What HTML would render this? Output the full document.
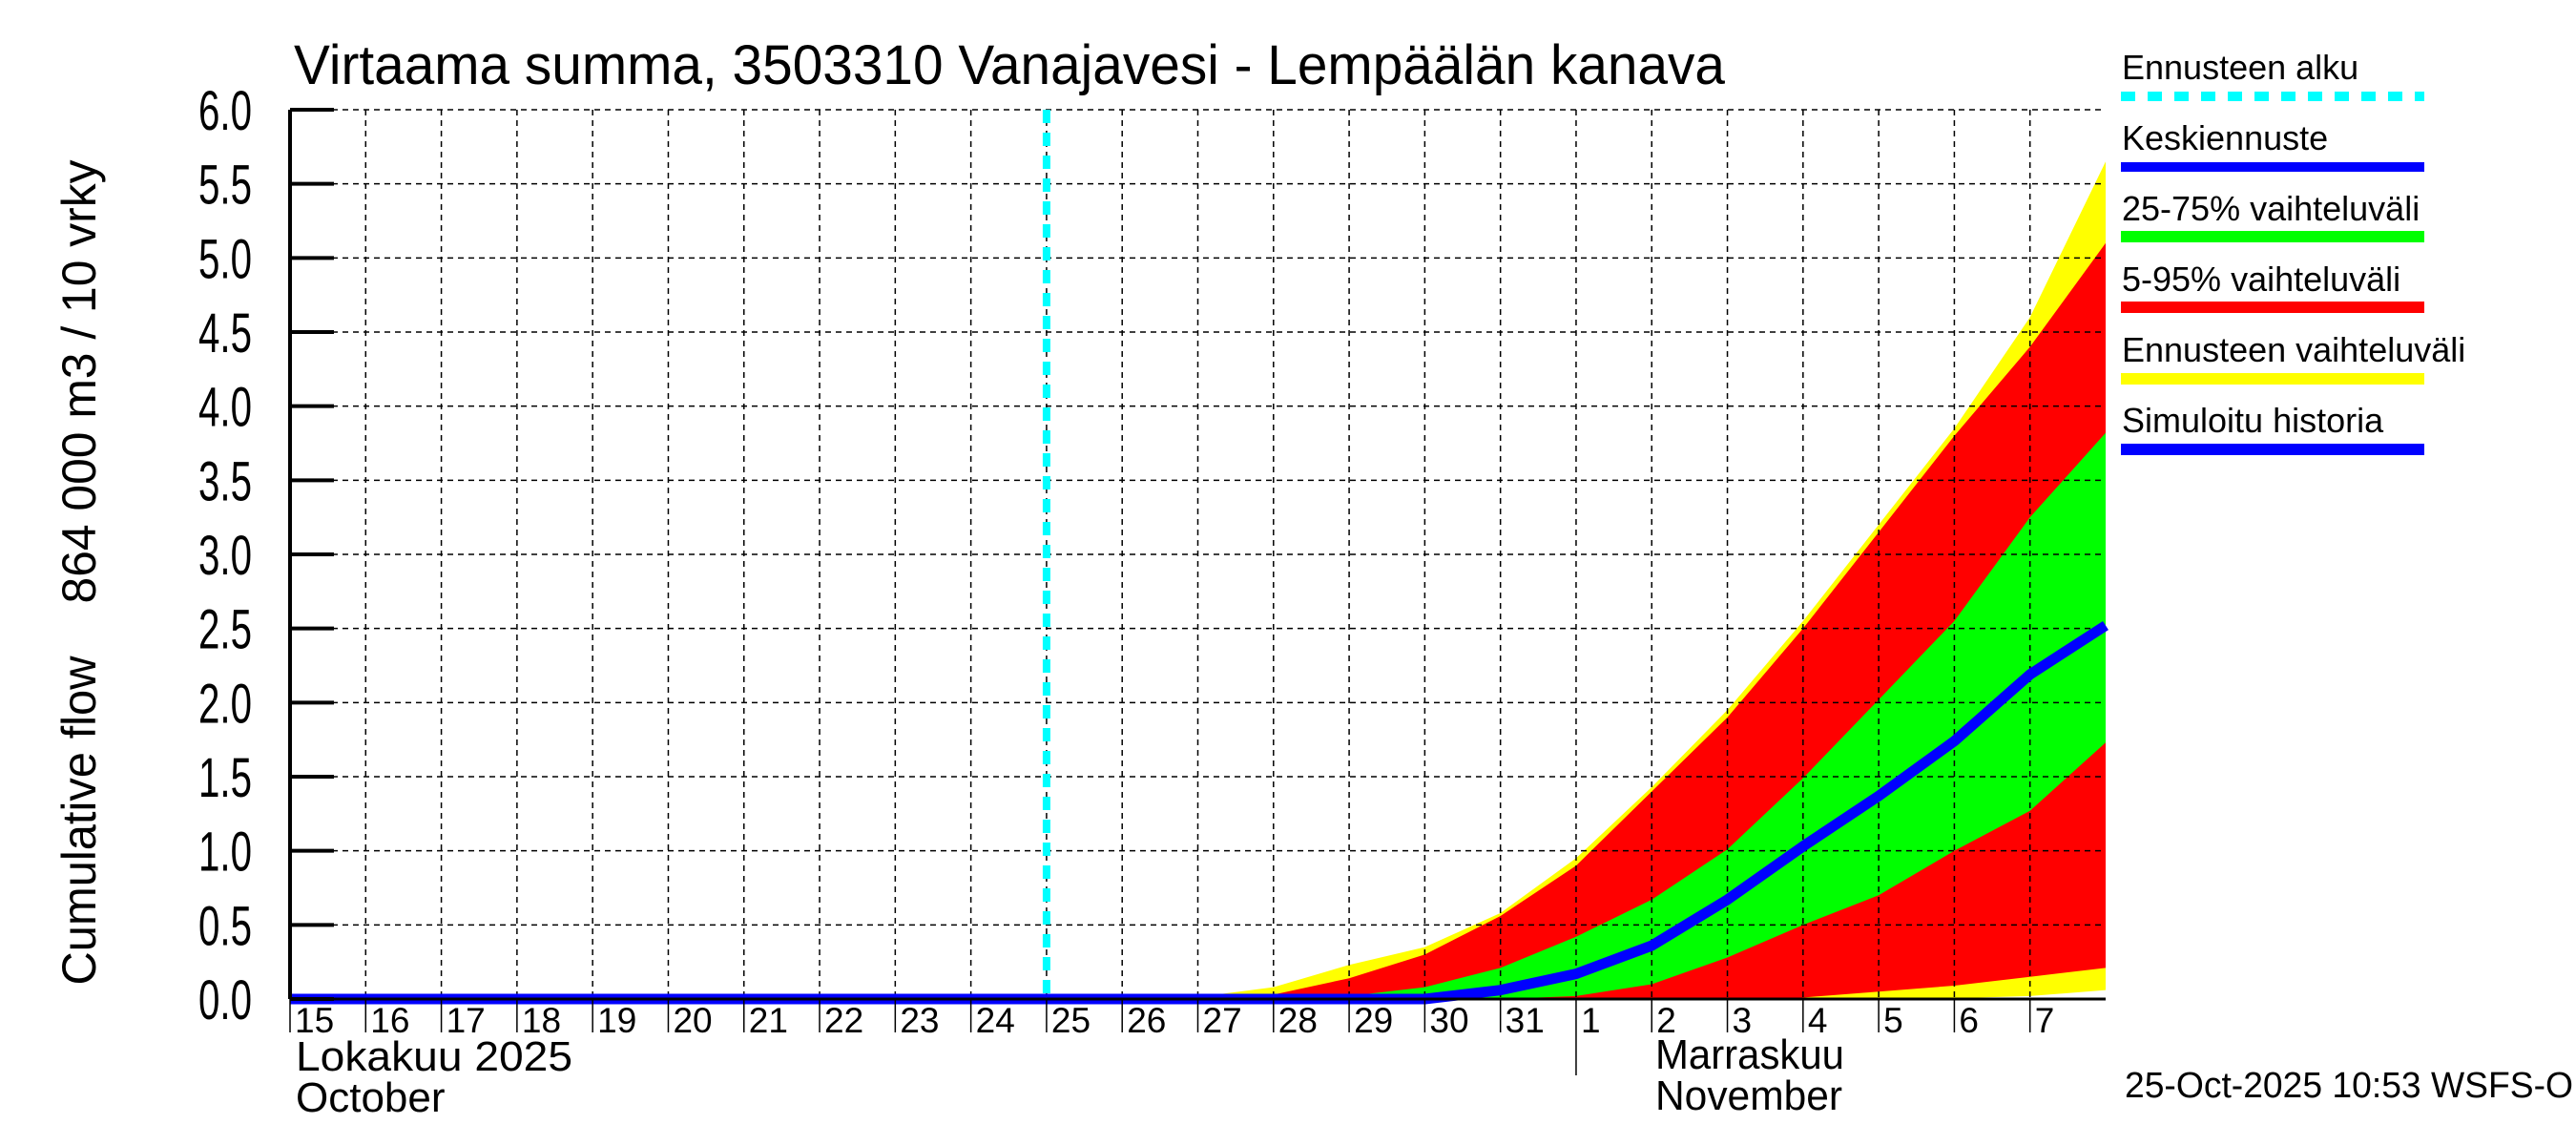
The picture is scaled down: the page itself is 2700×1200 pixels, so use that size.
<!DOCTYPE html>
<html><head><meta charset="utf-8"><style>
html,body{margin:0;padding:0;background:#fff;}
svg{display:block;font-family:"Liberation Sans",sans-serif;}
</style></head><body>
<svg id="chart" width="2700" height="1200" viewBox="0 0 2700 1200" xmlns="http://www.w3.org/2000/svg">
<text x="308" y="88" font-size="58" textLength="1500" lengthAdjust="spacingAndGlyphs">Virtaama summa, 3503310 Vanajavesi - Lempäälän kanava</text>
<text transform="translate(100,860) rotate(-90)" text-anchor="middle" font-size="50" textLength="345" lengthAdjust="spacingAndGlyphs">Cumulative flow</text>
<text transform="translate(100,400) rotate(-90)" text-anchor="middle" font-size="50" textLength="465" lengthAdjust="spacingAndGlyphs">864 000 m3 / 10 vrky</text>
<g id="bands"></g>
<g id="grid"></g>
<g id="lines"></g>
<g id="axes"></g>
<g>
 <text x="2224" y="83" font-size="36">Ennusteen alku</text>
 <line x1="2223" y1="101" x2="2541" y2="101" stroke="#00ffff" stroke-width="10" stroke-dasharray="15,13"/>
 <text x="2224" y="157" font-size="36">Keskiennuste</text>
 <line x1="2223" y1="175" x2="2541" y2="175" stroke="#0000ff" stroke-width="10"/>
 <text x="2224" y="231" font-size="36">25-75% vaihteluväli</text>
 <line x1="2223" y1="248" x2="2541" y2="248" stroke="#00ff00" stroke-width="12"/>
 <text x="2224" y="305" font-size="36">5-95% vaihteluväli</text>
 <line x1="2223" y1="322" x2="2541" y2="322" stroke="#ff0000" stroke-width="12"/>
 <text x="2224" y="379" font-size="36">Ennusteen vaihteluväli</text>
 <line x1="2223" y1="397" x2="2541" y2="397" stroke="#ffff00" stroke-width="12"/>
 <text x="2224" y="453" font-size="36">Simuloitu historia</text>
 <line x1="2223" y1="471" x2="2541" y2="471" stroke="#0000ff" stroke-width="12"/>
</g>
<text x="310" y="1122" font-size="44" textLength="290" lengthAdjust="spacingAndGlyphs">Lokakuu  2025</text>
<text x="310" y="1165" font-size="44">October</text>
<text x="1735" y="1120" font-size="44" textLength="198" lengthAdjust="spacingAndGlyphs">Marraskuu</text>
<text x="1735" y="1163" font-size="44" textLength="196" lengthAdjust="spacingAndGlyphs">November</text>
<text x="2697" y="1150" font-size="38" text-anchor="end" textLength="470" lengthAdjust="spacingAndGlyphs">25-Oct-2025 10:53 WSFS-O</text>
</svg>
<script>
// day index 0 = 15 Oct, 24 = 8 Nov
const dayLabels = ["15","16","17","18","19","20","21","22","23","24","25","26","27","28","29","30","31","1","2","3","4","5","6","7"];
const yTicks = [0,0.5,1,1.5,2,2.5,3,3.5,4,4.5,5,5.5,6];
const bandDays = [11.8,13,14,15,16,17,18,19,20,21,22,23,24];
const yellowUpper = [0,0.08,0.23,0.35,0.58,0.95,1.43,1.95,2.55,3.2,3.85,4.6,5.65];
const yellowLower = [0,0,0,0,0,0,0,0,0,0,0.005,0.02,0.06];
const redUpper    = [0,0.03,0.14,0.3,0.56,0.9,1.4,1.9,2.5,3.15,3.8,4.4,5.1];
const redLower    = [0,0,0,0,0,0,0,0,0.01,0.05,0.09,0.15,0.21];
const greenUpper  = [0,0,0.02,0.08,0.21,0.42,0.67,1.01,1.49,2.02,2.55,3.25,3.82];
const greenLower  = [0,0,0,0,0,0.02,0.1,0.28,0.5,0.7,1.0,1.27,1.73];
const medianDays  = [10,15,16,17,18,19,20,21,22,23,24];
const median      = [0,0,0.06,0.17,0.36,0.67,1.03,1.37,1.74,2.19,2.52];
const historyDays = [0,10];
const history     = [0,0];
const forecastStartDay = 10;

const L=304,R=2207,T=115,B=1047,NDAYS=24,YMAX=6;
const xs=d=>L+(R-L)*d/NDAYS;
const ys=v=>B-(B-T)*v/YMAX;
const NS="http://www.w3.org/2000/svg";
function mk(tag,parent,attrs){const e=document.createElementNS(NS,tag);for(const k in attrs)e.setAttribute(k,attrs[k]);document.getElementById(parent).appendChild(e);return e;}
function band(up,lo,color,name){
  let p=bandDays.map((d,i)=>xs(d)+","+ys(up[i]));
  for(let i=bandDays.length-1;i>=0;i--)p.push(xs(bandDays[i])+","+ys(lo[i]));
  const e=mk("polygon","bands",{points:p.join(" "),fill:color});
  
  
}
band(yellowUpper,yellowLower,"#ffff00","band-forecast-range");
band(redUpper,redLower,"#ff0000","band-5-95");
band(greenUpper,greenLower,"#00ff00","band-25-75");
for(let d=1;d<NDAYS;d++){
  const g=mk("line","grid",{x1:xs(d),x2:xs(d),y1:T,y2:B,stroke:"#000","stroke-width":1.5,"stroke-dasharray":"6,5"});
  
  
}
yTicks.forEach(v=>{
  const g=mk("line","grid",{x1:L,x2:R,y1:ys(v),y2:ys(v),stroke:"#000","stroke-width":1.5,"stroke-dasharray":"6,5"});
  
  
});
const hl=mk("polyline","lines",{points:historyDays.map((d,i)=>xs(d)+","+ys(history[i])).join(" "),fill:"none",stroke:"#0000ff","stroke-width":11});


const ml=mk("polyline","lines",{points:medianDays.map((d,i)=>xs(d)+","+ys(median[i])).join(" "),fill:"none",stroke:"#0000ff","stroke-width":11,"stroke-linejoin":"round"});


const fl=mk("line","lines",{x1:xs(forecastStartDay),x2:xs(forecastStartDay),y1:T,y2:B,stroke:"#00ffff","stroke-width":8,"stroke-dasharray":"14,10"});


const ya=mk("line","axes",{x1:L,x2:L,y1:T,y2:B,stroke:"#000","stroke-width":4});


const xa=mk("line","axes",{x1:L,x2:R,y1:B,y2:B,stroke:"#000","stroke-width":3});


yTicks.forEach(v=>{
  const t=mk("line","axes",{x1:L,x2:L+46,y1:ys(v),y2:ys(v),stroke:"#000","stroke-width":4});
  
  
  const tx=mk("text","axes",{x:264,y:ys(v)+21,"font-size":58,"text-anchor":"end",textLength:56,lengthAdjust:"spacingAndGlyphs"});
  tx.textContent=v.toFixed(1);
  
  
});
dayLabels.forEach((lab,d)=>{
  const t=mk("line","axes",{x1:xs(d),x2:xs(d),y1:B,y2:d===17?1127:1082,stroke:"#000","stroke-width":1.5});
  
  
  const tx=mk("text","axes",{x:xs(d)+5,y:1082,"font-size":37});
  tx.textContent=lab;
  
  
});
</script>
</body></html>
